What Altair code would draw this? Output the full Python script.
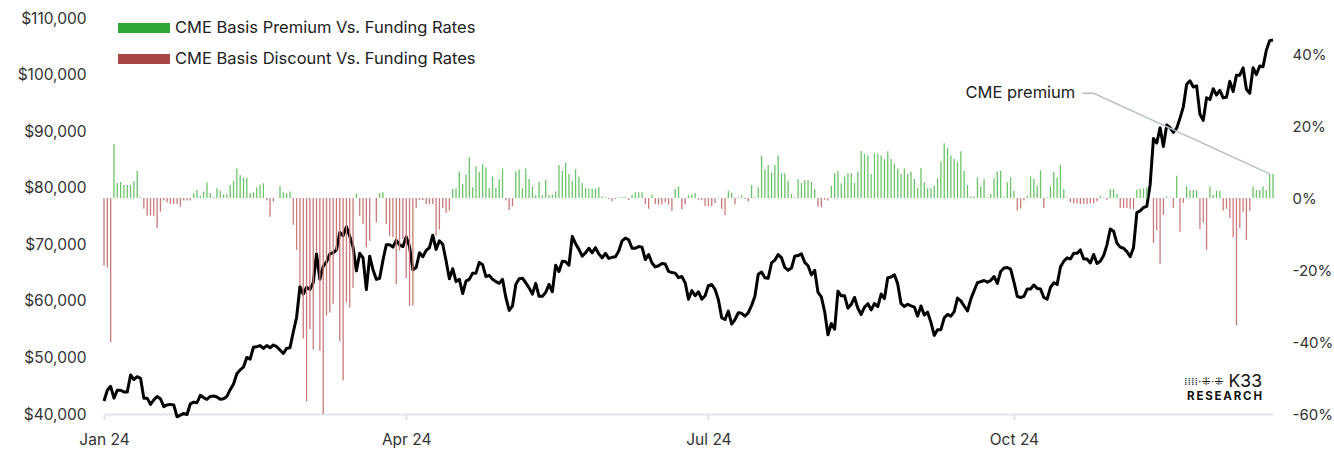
import altair as alt
import pandas as pd

# BTC price (thousand USD), daily, starting 2024-01-01
price_jan = [42.3, 44.2, 44.9, 42.8, 44.2, 44.2, 43.9, 43.9, 46.9, 46.1, 46.6, 46.3, 42.8, 42.8, 41.7, 42.5,
             43.1, 42.7, 41.3, 41.6, 41.7, 41.6, 39.5, 39.8, 40.1, 39.9, 41.8, 42.1, 42.0, 43.3, 42.9]
price_feb = [42.6, 43.1, 43.2, 43.0, 42.6, 42.7, 43.1, 44.3, 45.3, 47.1, 47.8, 48.3, 50.0, 49.7, 51.8, 51.9,
             52.1, 51.6, 52.1, 51.7, 52.2, 51.9, 51.3, 50.7, 51.6, 51.7, 54.5, 57.1, 62.5]
price_mar = [61.2, 62.4, 62.0, 63.2, 68.3, 63.8, 66.1, 66.9, 68.3, 68.5, 69.0, 72.1, 71.5, 73.1, 71.4, 69.5,
             65.3, 68.4, 67.6, 62.0, 67.9, 65.5, 63.8, 64.0, 67.2, 69.9, 69.9, 69.5, 70.7, 69.9, 69.6]
price_apr = [71.3, 69.6, 65.5, 65.9, 68.5, 67.8, 68.9, 69.4, 71.6, 69.1, 70.6, 70.0, 67.1, 63.9, 65.7, 63.4,
             63.8, 61.3, 63.5, 63.8, 64.9, 64.9, 66.8, 66.4, 64.3, 64.5, 63.8, 63.4, 63.1, 63.8]
price_may = [60.6, 58.3, 59.1, 62.9, 63.9, 64.0, 63.2, 62.3, 61.2, 63.1, 60.8, 60.8, 61.5, 62.9, 61.6, 66.3,
             65.2, 67.0, 66.9, 66.3, 71.4, 70.1, 69.1, 67.9, 68.5, 69.3, 68.5, 69.4, 68.3, 67.6, 68.4]
price_jun = [67.5, 67.7, 67.8, 68.8, 70.6, 71.1, 70.8, 69.3, 69.3, 69.6, 69.5, 67.3, 68.2, 66.7, 66.0, 66.2,
             66.6, 66.5, 65.2, 65.0, 64.9, 64.1, 64.3, 63.2, 60.3, 61.8, 60.9, 61.6, 60.3, 60.9]
price_jul = [62.7, 62.9, 62.0, 60.2, 57.0, 56.7, 58.2, 55.9, 56.7, 57.9, 57.8, 57.3, 57.9, 59.2, 60.8, 64.7,
             65.1, 64.1, 64.0, 66.7, 67.2, 68.2, 67.6, 65.9, 65.4, 65.8, 67.9, 68.0, 68.3, 66.8, 66.2]
price_aug = [64.6, 65.4, 61.5, 60.7, 58.1, 54.0, 56.0, 55.0, 61.7, 60.9, 60.9, 58.7, 59.4, 60.6, 58.7, 57.6,
             58.9, 59.5, 58.4, 59.5, 59.0, 61.2, 60.4, 64.1, 64.2, 64.6, 63.0, 59.5, 59.0, 59.4, 59.1]
price_sep = [58.9, 57.3, 59.1, 57.5, 58.0, 56.2, 53.9, 54.9, 54.9, 57.0, 57.6, 57.3, 58.1, 60.5, 60.0, 59.1,
             58.2, 60.3, 61.8, 63.2, 63.4, 63.6, 63.3, 63.6, 64.3, 63.1, 65.2, 65.8, 65.9, 65.6]
price_oct = [63.3, 60.8, 60.6, 60.8, 62.1, 62.1, 62.8, 62.2, 62.1, 60.6, 60.3, 62.4, 63.2, 62.9, 66.0, 67.0,
             67.6, 67.4, 68.4, 68.4, 69.0, 67.4, 67.4, 66.7, 68.2, 66.6, 67.0, 68.0, 69.9, 72.7, 72.3]
price_nov = [70.2, 69.5, 69.3, 68.7, 67.8, 69.4, 75.6, 75.9, 76.5, 76.7, 80.5, 88.7, 87.9, 90.6, 87.3, 91.1,
             90.6, 89.8, 90.5, 92.3, 94.3, 98.3, 98.9, 97.8, 98.0, 93.0, 91.9, 95.9, 95.6, 97.5]
price_dec = [96.4, 97.2, 95.9, 96.0, 98.8, 97.0, 99.9, 99.9, 101.2, 97.4, 96.7, 101.2, 100.0, 101.5, 101.4,
             104.3, 106.0, 106.1]

# CME basis premium/discount vs funding rates (%), daily, starting 2024-01-01
basis_jan_feb = [-18.8, -19.3, -40.0, 15.0, 4.2, 4.5, 3.6, 3.6, 3.6, 4.7, 7.6, 0.3, -2.9, -4.9, -4.9, -4.9,
                 -8.3, -3.8, -0.7, -1.2, -1.7, -1.7, -1.7, -2.4, -0.7, -0.6, -0.7, 1.3, 2.2, 0.6, 1.8, 4.4,
                 1.4, 0.2, 2.8, 2.0, 1.0, 1.0, 3.6, 4.8, 8.2, 6.4, 5.6, 5.6, 1.3, 1.6, 3.0, 3.7, 4.1, -0.7,
                 -5.2, -1.0, 0.0, 3.4, 1.6, 1.3, 1.8]
basis_mar_apr = [-7.4, -14.4, -24.4, -39.0, -56.5, -36.4, -42.1, -15.1, -42.4, -60.0, -32.7, -31.8, -29.4,
                 -14.6, -39.8, -50.7, -29.0, -30.4, -25.0, 1.3, -4.9, -7.2, -13.7, -11.9, 0.0, -6.8, 1.4, 1.6,
                 -7.2, -10.5, -10.9, -23.9, -14.6, -11.4, -22.2, -30.0, -29.9, -2.8, -0.6, -0.6, -1.7, -1.7]
basis_apr_jul = [-1.7, -10.5, -8.8, -2.8, -4.2, -3.5, 2.5, 2.7, 7.3, 3.9, 6.5, 11.3, 3.0, 8.8, 7.3, 9.4, 8.5,
                 2.8, 5.9, 2.8, 5.3, 8.2, -0.7, -3.3, -2.3, 7.4, 7.9, 2.7, 8.2, 5.3, 3.2, 0.8, 4.5, 0.8, 5.0,
                 0.8, 1.0, 1.9, 9.2, 7.5, 9.9, 6.7, 4.8, 8.0, 6.0, 4.2, 2.8, 2.6, 2.6, 2.6, 3.0, 0.5, 0.2,
                 -0.3, -0.9, -0.3, 0.2, 0.3, 0.3, -0.5, 0.9, 1.6, 1.6, 1.6, -1.7, -3.0, 1.0, -1.7, -1.8, -1.8,
                 -1.2, -1.8, -3.7, 2.5, 3.2, -3.2, -1.8, 0.8, 1.0, 1.4, -0.5, -0.6, -2.3, -2.3, -2.3, -1.4,
                 0.2, -3.0, -4.7, 2.0, 1.4, -1.8, 0.2, 0.8, -0.3, -1.0, 3.6, 0.2, 3.0, 11.8, 7.9, 9.2, 7.1,
                 9.2, 11.9, 6.9, 6.9, 4.8, 1.1, 0.2, 5.3, 4.2]
basis_aug_dec = [5.0, 5.0, 4.5, 2.5, -2.4, -2.6, -0.5, -0.7, 3.4, 6.9, 7.6, 4.1, 6.0, 6.9, 6.9, 4.2, 7.3, 13.1,
                 12.2, 11.9, 6.7, 12.5, 12.3, 11.8, 10.8, 13.0, 10.8, 9.6, 8.2, 6.7, 8.2, 6.7, 7.3, 5.3, 2.8,
                 8.3, 4.4, 2.7, 2.7, 3.4, 5.5, 10.1, 15.2, 13.9, 11.8, 10.8, 10.1, 13.0, 7.6, 3.6, 0.4, 0.4,
                 5.7, 3.2, 5.3, 0.2, 1.1, 5.5, 7.4, 7.6, 0.2, 4.4, 5.7, 2.0, -3.5, -2.9, -0.7, 0.6, 6.0, 5.3,
                 3.4, 7.7, -2.8, 0.2, 3.2, 7.3, 5.7, 9.2, 2.5, 0.2, -1.2, -1.5, -1.5, -1.7, -1.7, -1.7, -1.5,
                 -1.4, -1.0, 0.6, 0.2, -0.5, 2.5, 2.5, 1.1, -2.8, -2.8, -2.8, -3.0, -3.2, 2.3, 2.5, 2.7, 3.0,
                 0.0, -12.5, -9.0, -18.2, -4.7, 0.4, 0.2, -2.8, 6.2, -9.4, -1.4, 3.2, 2.2, 2.2, 2.2, -8.6,
                 -6.9, -14.4, 3.2, 0.8, 2.0, 2.0, -3.5, -3.0, -5.6, -10.9, -35.4, -8.4, -3.8, -11.6, -3.5,
                 3.2, 2.2, 2.2, 3.2, 2.2, 6.7, 6.7]

legend_labels = ["CME Basis Premium Vs. Funding Rates", "CME Basis Discount Vs. Funding Rates"]
legend_colors = ["#2ea836", "#a84545"]
annotation_text = "CME premium"
ann_dates = ["2024-10-21T14:00:00Z", "2024-10-25T00:00:00Z", "2024-12-17T00:00:00Z"]
ann_pct = [29.1, 29.1, 6.7]
logo_texts = ["K33", "R\u2009E\u2009S\u2009E\u2009A\u2009R\u2009C\u2009H", "\u205e\u205e\u205e\u205e\u00b7\u205c\u00b7\u205c"]

prices = (price_jan + price_feb + price_mar + price_apr + price_may + price_jun + price_jul + price_aug
          + price_sep + price_oct + price_nov + price_dec)
basis = basis_jan_feb + basis_mar_apr + basis_apr_jul + basis_aug_dec

start = pd.Timestamp("2024-01-01")


def dates(n):
    return [(start + pd.Timedelta(days=i)).strftime("%Y-%m-%d") for i in range(n)]


price_df = pd.DataFrame({"date": dates(len(prices)), "price": [p * 1000 for p in prices]})
basis_df = pd.DataFrame({"date": dates(len(basis)), "pct": basis})
ann_df = pd.DataFrame({"date": ann_dates, "pct": ann_pct})

FONT = "Inter"
TXT = "#333333"

x_scale = alt.Scale(type="utc", domain=[alt.DateTime(year=2024, month=1, date=1, utc=True),
                                        alt.DateTime(year=2024, month=12, date=18, utc=True)])
x_axis = alt.Axis(values=[alt.DateTime(year=2024, month=m, date=1, utc=True) for m in (1, 4, 7, 10)],
                  labelExpr="utcFormat(datum.value, '%b %y')", title=None, grid=False,
                  domainColor="#e1e5ea", domainWidth=2, tickColor="#e1e5ea", tickWidth=2, tickSize=6,
                  labelFontSize=15.5, labelColor=TXT, labelPadding=12, labelFont=FONT, labelFlush=False)

pct_scale = alt.Scale(domain=[-60, 50], nice=False, zero=False)

price_line = alt.Chart(price_df).mark_line(color="#000000", strokeWidth=3, strokeJoin="round").encode(
    x=alt.X("date:T", scale=x_scale, axis=x_axis),
    y=alt.Y("price:Q", scale=alt.Scale(domain=[40000, 110000], nice=False, zero=False),
            axis=alt.Axis(orient="left", values=list(range(40000, 110001, 10000)), format="$,.0f",
                          grid=False, domain=False, ticks=False, labelPadding=18, labelFontSize=15.5,
                          labelColor=TXT, labelFont=FONT, title=None)),
)

bars = alt.Chart(basis_df).mark_rule(strokeWidth=1.3).encode(
    x=alt.X("date:T", scale=x_scale, axis=x_axis),
    y=alt.Y("pct:Q", scale=pct_scale,
            axis=alt.Axis(orient="right", values=[-60, -40, -20, 0, 20, 40], labelExpr="datum.value + '%'",
                          grid=False, domain=False, ticks=False, labelPadding=19, labelFontSize=15,
                          labelColor=TXT, labelFont=FONT, title=None)),
    y2=alt.datum(0),
    color=alt.condition(alt.datum.pct >= 0, alt.value("#6cc46a"), alt.value("#c97a7a")),
)

ann_line = alt.Chart(ann_df).mark_line(color="#b9bfc6", strokeWidth=1.5).encode(
    x=alt.X("date:T", scale=x_scale, axis=x_axis),
    y=alt.Y("pct:Q", scale=pct_scale),
)
ann_text = alt.Chart(ann_df.head(1)).mark_text(align="right", baseline="middle", dx=-7, fontSize=16.5,
                                                font=FONT, color="#222222").encode(
    x=alt.X("date:T", scale=x_scale, axis=x_axis),
    y=alt.Y("pct:Q", scale=pct_scale),
    text=alt.value(annotation_text),
)

right_layer = alt.layer(bars, ann_line, ann_text)

leg_df = pd.DataFrame({"label": legend_labels, "color": legend_colors, "row": [0, 1]})
leg_y = alt.Y("row:Q", axis=None, scale=alt.Scale(domain=[0, 1], range=[10, 41]))
leg_rect = alt.Chart(leg_df).mark_rule(strokeWidth=10, strokeCap="butt").encode(
    x=alt.value(14), x2=alt.value(66),
    y=leg_y,
    color=alt.Color("color:N", scale=None),
)
leg_text = alt.Chart(leg_df).mark_text(align="left", baseline="middle", fontSize=16.5, font=FONT,
                                       color="#222222").encode(
    x=alt.value(71),
    y=leg_y,
    text="label:N",
)

logo_df = pd.DataFrame({"t": logo_texts})
logo_main = alt.Chart(logo_df.iloc[[0]]).mark_text(align="right", baseline="middle", fontSize=17.5,
                                                    font=FONT, color="#111111").encode(
    x=alt.value(1158), y=alt.value(363.5), text="t:N")
logo_sub = alt.Chart(logo_df.iloc[[1]]).mark_text(align="right", baseline="middle", fontSize=11.5,
                                                   fontWeight="bold", font=FONT, color="#111111").encode(
    x=alt.value(1158), y=alt.value(379), text="t:N")
logo_icon = alt.Chart(logo_df.iloc[[2]]).mark_text(align="left", baseline="middle", fontSize=11,
                                                    font="DejaVu Sans", color="#111111").encode(
    x=alt.value(1080), y=alt.value(364), text="t:N")

chart = alt.layer(price_line, right_layer, leg_rect, leg_text, logo_main, logo_sub, logo_icon).resolve_scale(
    y="independent", color="independent"
).properties(
    width=1169, height=396,
    padding={"left": 104, "top": 18, "right": 61, "bottom": 37},
    autosize=alt.AutoSizeParams(type="none"),
).configure(font=FONT).configure_view(stroke=None)

chart.save("out.html", embed_options={"renderer": "svg", "actions": False})
